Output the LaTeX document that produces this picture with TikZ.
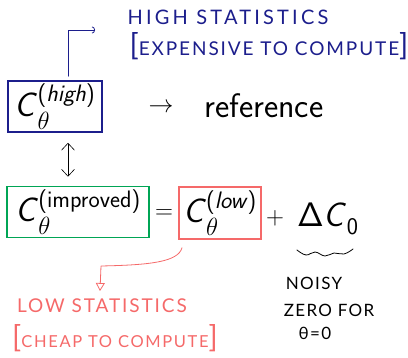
\documentclass[tikz,border=0pt]{standalone}
\usepackage{amsmath}
\usepackage{fontspec}
\usepackage{xcolor}
\usetikzlibrary{arrows.meta,positioning}
\newfontfamily\hand[LetterSpace=10]{Lato}
\newfontfamily\handtight[LetterSpace=8]{Lato}
\definecolor{hiblue}{RGB}{28,30,140}
\definecolor{impgreen}{RGB}{0,165,85}
\definecolor{lowred}{RGB}{245,105,105}
\newcommand{\Cs}{\textsf{\textit{C}}}
\newcommand{\bigbr}[1]{{\fontsize{30}{30}\selectfont#1}}
\begin{document}
\begin{tikzpicture}[
  x=1pt, y=-1pt,
  eqbox/.style={draw, line width=1.6pt, minimum height=51pt, inner sep=0pt, font=\fontsize{34}{40}\selectfont},
  eqtxt/.style={font=\fontsize{34}{40}\selectfont, inner sep=0pt},
  note/.style={font=\hand\fontsize{19}{22}\selectfont, inner sep=0pt},
  hand arr/.style={line width=0.8pt, line cap=round, line join=round}
]
\useasboundingbox (0,0) rectangle (408,358);
% boxes of the relation
\node[eqbox, draw=hiblue, minimum width=94pt] (high) at (55,106.5) {$\Cs_\theta^{\text{\sffamily(\itshape high\/\upshape)}}$};
\node[eqtxt] (to) at (161,108) {$\rightarrow$};
\node[eqtxt, anchor=base west] (ref) at (204,118) {\sffamily reference};
\node[eqbox, draw=impgreen, minimum width=142pt] (improved) at (78,212) {$\Cs_\theta^{\text{\sffamily(improved)}}$};
\node[eqtxt] (eq) at (164,214) {$=$};
\node[eqbox, draw=lowred, minimum width=82pt, minimum height=52pt] (low) at (220,213) {$\Cs_\theta^{\text{\sffamily(\itshape low\/\upshape)}}$};
\node[eqtxt] (plus) at (275,218) {$+$};
\node[eqtxt, anchor=base west] (delta) at (297,227) {\textsf{Δ}$\Cs_{\textsf{0}}$};
\draw[line width=0.6pt, {Straight Barb[length=7pt,width=13pt]}-{Straight Barb[length=7pt,width=13pt]}]
  ([xshift=13pt,yshift=-10pt]high.south) -- ([xshift=-10pt,yshift=9pt]improved.north);
% handwritten notes
\node[note, text=hiblue, font=\hand\fontsize{20}{22}\selectfont\addfontfeature{LetterSpace=16}] (histat) at (228,17) {HIGH STATISTICS};
\node[note, text=hiblue] (expens) at (269,46) {\bigbr{[}EXPENSIVE TO COMPUTE\bigbr{]}};
\node[note, text=lowred] (lowstat) at (102,306) {LOW STATISTICS};
\node[note, text=lowred, font=\hand\fontsize{16.5}{20}\selectfont] (cheap) at (115,338) {\bigbr{[}CHEAP TO COMPUTE\bigbr{]}};
\node[note, font=\handtight\fontsize{17}{20}\selectfont] (noisy) at (314,283) {NOISY};
\node[note, font=\handtight\fontsize{17}{20}\selectfont] (zero) at (329,310) {ZERO FOR};
\node[note, font=\handtight\fontsize{17}{20}\selectfont] (theta) at (315,333) {θ=0};
\coordinate (hitip) at (95,30);
\coordinate (lowtip) at (100,291);
\draw[hand arr, hiblue, -{Arc Barb[length=3pt,width=7pt]}] ([xshift=13pt,yshift=4pt]high.north) |- (hitip);
\draw[hand arr, lowred, -{Triangle[open,length=8pt,width=9pt]}] ([xshift=-38pt,yshift=-8pt]low.south)
  .. controls (178,262) and (150,265) .. (101,266) -- (lowtip);
% wavy brace under the shift
\draw[line width=0.8pt, line cap=round] plot[smooth, tension=0.7] coordinates
  {(297,250) (306,255) (315,252) (325,256) (334,253) (344,254) (353,249)};
\end{tikzpicture}
\end{document}
